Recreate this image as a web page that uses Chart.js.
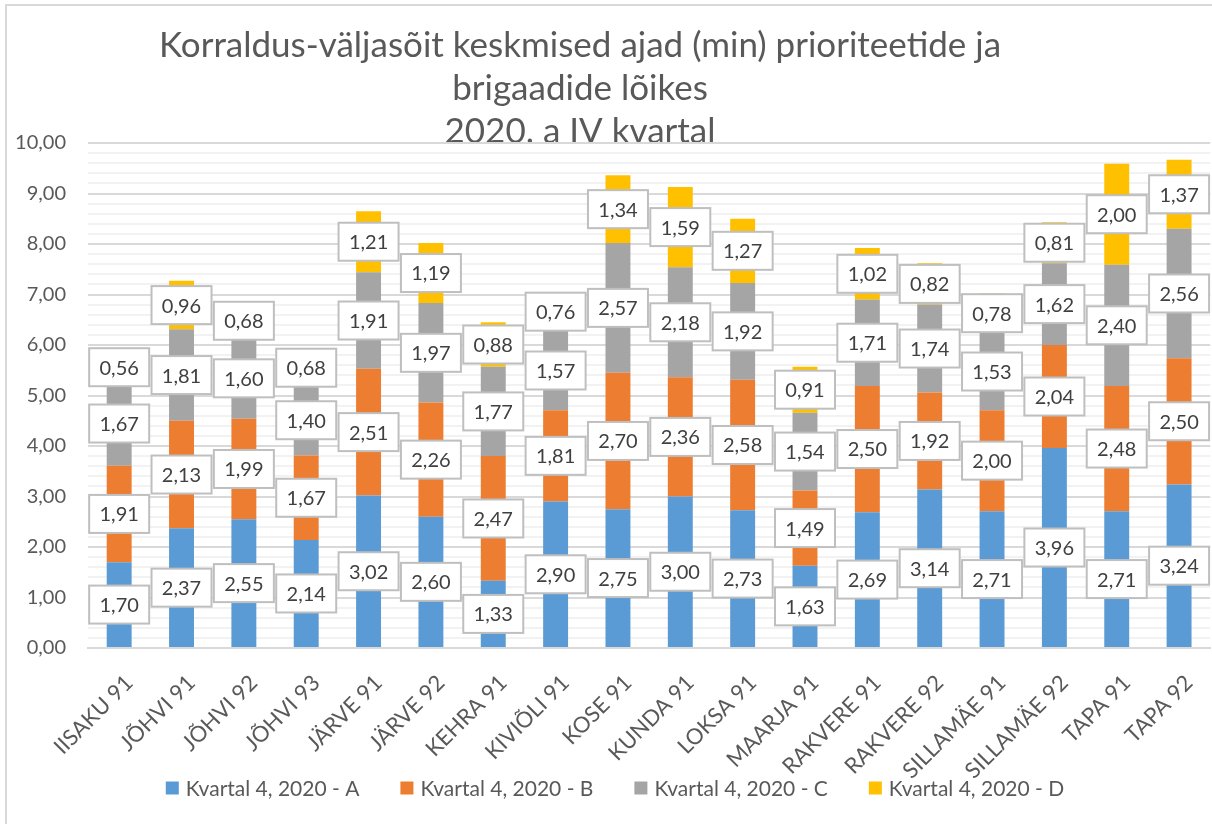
<!DOCTYPE html>
<html>
<head>
<meta charset="utf-8">
<script src="https://cdn.jsdelivr.net/npm/chart.js@4.4.1/dist/chart.umd.min.js"></script>
<style>
  html, body { margin: 0; padding: 0; overflow: hidden; background: #fff; }
  #wrap { width: 1220px; height: 830px; }
</style>
</head>
<body>
<div id="wrap"><canvas id="chart" width="1220" height="830"></canvas></div>
<script>
// Chart data
const titleLines = [
    'Korraldus-väljasõit keskmised ajad (min) prioriteetide ja',
    'brigaadide lõikes',
    '2020. a IV kvartal'
];
const categories = [
    'IISAKU 91', 'JÕHVI 91', 'JÕHVI 92', 'JÕHVI 93', 'JÄRVE 91', 'JÄRVE 92',
    'KEHRA 91', 'KIVIÕLI 91', 'KOSE 91', 'KUNDA 91', 'LOKSA 91', 'MAARJA 91',
    'RAKVERE 91', 'RAKVERE 92', 'SILLAMÄE 91', 'SILLAMÄE 92', 'TAPA 91', 'TAPA 92'
];
const seriesNames = ['Kvartal 4, 2020 - A', 'Kvartal 4, 2020 - B', 'Kvartal 4, 2020 - C', 'Kvartal 4, 2020 - D'];
const valuesA = [1.70, 2.37, 2.55, 2.14, 3.02, 2.60, 1.33, 2.90, 2.75, 3.00, 2.73, 1.63, 2.69, 3.14, 2.71, 3.96, 2.71, 3.24];
const valuesB = [1.91, 2.13, 1.99, 1.67, 2.51, 2.26, 2.47, 1.81, 2.70, 2.36, 2.58, 1.49, 2.50, 1.92, 2.00, 2.04, 2.48, 2.50];
const valuesC = [1.67, 1.81, 1.60, 1.40, 1.91, 1.97, 1.77, 1.57, 2.57, 2.18, 1.92, 1.54, 1.71, 1.74, 1.53, 1.62, 2.40, 2.56];
const valuesD = [0.56, 0.96, 0.68, 0.68, 1.21, 1.19, 0.88, 0.76, 1.34, 1.59, 1.27, 0.91, 1.02, 0.82, 0.78, 0.81, 2.00, 1.37];
const seriesColors = ['#5B9BD5', '#ED7D31', '#A5A5A5', '#FFC000'];

const FONT = 'Lato, "Open Sans", sans-serif';
const TEXT_COLOR = '#595959';

function isMajor(v) {
    return Math.abs(v - Math.round(v)) < 1e-6;
}

function fmt(v) {
    return v.toFixed(2).replace('.', ',');
}

// Frame, title, value boxes and legend
const decor = {
    id: 'decor',
    beforeDraw(chart) {
        const ctx = chart.ctx;
        const area = chart.chartArea;
        ctx.save();
        ctx.fillStyle = '#fff';
        ctx.fillRect(0, 0, chart.width, chart.height);
        ctx.strokeStyle = '#d9d9d9';
        ctx.lineWidth = 2;
        ctx.strokeRect(6, 5, chart.width + 20, chart.height + 20);

        ctx.fillStyle = TEXT_COLOR;
        ctx.font = '35px ' + FONT;
        ctx.textAlign = 'center';
        ctx.textBaseline = 'alphabetic';
        titleLines.forEach((t, i) => ctx.fillText(t, 580, 57 + i * 43));

        // plot area covers the bottom of the last title line
        ctx.fillStyle = '#fff';
        ctx.fillRect(area.left, area.top, area.right - area.left, area.bottom - area.top);
        ctx.restore();
    },
    afterDatasetsDraw(chart) {
        const ctx = chart.ctx;
        ctx.save();
        ctx.font = '20px ' + FONT;
        ctx.textAlign = 'center';
        ctx.textBaseline = 'middle';
        chart.data.datasets.forEach((ds, di) => {
            const meta = chart.getDatasetMeta(di);
            meta.data.forEach((bar, i) => {
                const cy = (bar.y + bar.base) / 2;
                ctx.fillStyle = '#fff';
                ctx.fillRect(bar.x - 30, cy - 19, 60, 38);
                ctx.strokeStyle = '#bfbfbf';
                ctx.lineWidth = 2;
                ctx.strokeRect(bar.x - 30, cy - 19, 60, 38);
                ctx.fillStyle = '#404040';
                ctx.fillText(fmt(ds.data[i]), bar.x, cy + 1);
            });
        });
        ctx.restore();
    },
    afterDraw(chart) {
        const ctx = chart.ctx;
        ctx.save();
        ctx.font = '21px ' + FONT;
        ctx.textBaseline = 'middle';
        ctx.textAlign = 'left';
        const items = chart.data.datasets.map(ds => ({
            text: ds.label,
            color: ds.backgroundColor,
            w: 13 + 7 + ctx.measureText(ds.label).width
        }));
        const gap = 41;
        const total = items.reduce((s, it) => s + it.w, 0) + gap * (items.length - 1);
        let x = 615 - total / 2;
        const y = 788;
        items.forEach(it => {
            ctx.fillStyle = it.color;
            ctx.fillRect(x, y - 6.5, 13, 13);
            ctx.fillStyle = TEXT_COLOR;
            ctx.fillText(it.text, x + 20, y + 1);
            x += it.w + gap;
        });
        ctx.restore();
    }
};

const allValues = [valuesA, valuesB, valuesC, valuesD];

new Chart(document.getElementById('chart').getContext('2d'), {
    type: 'bar',
    data: {
        labels: categories,
        datasets: allValues.map((vals, i) => ({
            label: seriesNames[i],
            data: vals,
            backgroundColor: seriesColors[i],
            borderWidth: 0,
            barPercentage: 0.40,
            categoryPercentage: 1
        }))
    },
    options: {
        responsive: false,
        animation: false,
        layout: { padding: { top: 143, right: 9, left: 0, bottom: 0 } },
        plugins: {
            legend: { display: false },
            tooltip: { enabled: false },
            title: { display: false }
        },
        scales: {
            x: {
                stacked: true,
                grid: { display: false, drawTicks: false },
                border: { color: '#d9d9d9', width: 2 },
                ticks: {
                    color: TEXT_COLOR,
                    font: { size: 22, family: FONT },
                    maxRotation: 45,
                    minRotation: 45,
                    autoSkip: false,
                    labelOffset: 10,
                    padding: 22
                },
                afterFit: s => { s.height = 182; }
            },
            y: {
                stacked: true,
                min: 0,
                max: 10,
                border: { display: false },
                grid: {
                    color: c => isMajor(c.tick.value) ? '#d9d9d9' : '#f2f2f2',
                    lineWidth: 2,
                    drawTicks: false
                },
                ticks: {
                    stepSize: 0.2,
                    autoSkip: false,
                    maxTicksLimit: 100,
                    padding: 22,
                    color: TEXT_COLOR,
                    font: { size: 20, family: FONT },
                    callback: v => isMajor(v) ? fmt(v) : ''
                },
                afterFit: s => { s.width = 88; }
            }
        }
    },
    plugins: [decor]
});
</script>
</body>
</html>
